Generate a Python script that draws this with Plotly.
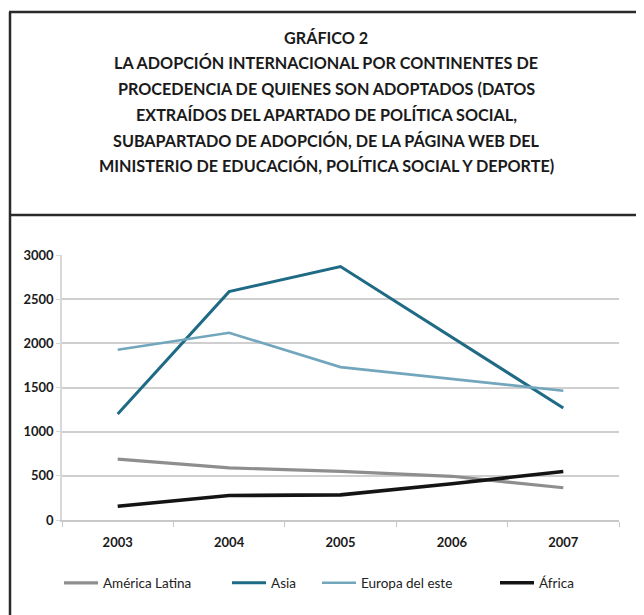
import plotly.graph_objects as go

years = ["2003", "2004", "2005", "2006", "2007"]
america_latina = [690, 590, 550, 495, 365]
asia = [1200, 2585, 2870, 2070, 1268]
europa_este = [1927, 2120, 1731, 1600, 1463]
africa = [155, 277, 285, 410, 550]

series_names = ["América Latina", "Asia", "Europa del este", "África"]
title_lines = [
    "GRÁFICO 2",
    "LA ADOPCIÓN INTERNACIONAL POR CONTINENTES DE",
    "PROCEDENCIA DE QUIENES SON ADOPTADOS (DATOS",
    "EXTRAÍDOS DEL APARTADO DE POLÍTICA SOCIAL,",
    "SUBAPARTADO DE ADOPCIÓN, DE LA PÁGINA WEB DEL",
    "MINISTERIO DE EDUCACIÓN, POLÍTICA SOCIAL Y DEPORTE)",
]

# page body has an 8px margin: work in reference pixel coords, shifted by OFF
OFF = 8
W, H = 644, 615
PL, PR, PT, PB = 62, 619, 255, 520  # plot box in reference pixels
L, T = PL - OFF, PT - OFF
R, B = W - (PR - OFF), H - (PB - OFF)
PW, PH = W - L - R, H - T - B


def px(x):
    return (x - OFF - L) / PW


def py(y):
    return (H - B - (y - OFF)) / PH


colors = ["#8e8e8e", "#1f6a84", "#72a6bd", "#141414"]
widths = [3.2, 3.0, 2.6, 3.6]
legends = ["legend", "legend2", "legend3", "legend4"]
legend_x = [59, 227, 317, 495]

fig = go.Figure()
for name, vals, c, w, lg in zip(series_names, [america_latina, asia, europa_este, africa],
                                colors, widths, legends):
    fig.add_trace(go.Scatter(x=years, y=vals, name=name, mode="lines", showlegend=True,
                             line=dict(color=c, width=w), legend=lg))

legend_common = dict(orientation="h", yanchor="middle", xanchor="left",
                     font=dict(family="Lato", size=13.5, color="#222"),
                     bgcolor="rgba(0,0,0,0)", itemwidth=34)
layout_legends = {}
for lg, lx in zip(legends, legend_x):
    d = dict(legend_common)
    d.update(x=px(lx), y=py(583), visible=True)
    layout_legends[lg] = d

annotations = []
title_y = [37, 63, 89, 115, 140, 165]
for t, ty in zip(title_lines, title_y):
    annotations.append(dict(text=t, x=px(326), y=py(ty), xref="paper", yref="paper",
                            showarrow=False, xanchor="center", yanchor="middle",
                            font=dict(family="Lato", size=16.2, color="#1a1a1a", weight="bold")))

shapes = [
    dict(type="line", xref="paper", yref="paper", x0=px(10), x1=px(10), y0=py(12), y1=py(625),
         line=dict(color="#2a2a2a", width=2.5)),
    dict(type="line", xref="paper", yref="paper", x0=px(9), x1=px(641), y0=py(12), y1=py(12),
         line=dict(color="#2a2a2a", width=2.5)),
    dict(type="line", xref="paper", yref="paper", x0=px(641), x1=px(641), y0=py(12), y1=py(215),
         line=dict(color="#2a2a2a", width=2.5)),
    dict(type="line", xref="paper", yref="paper", x0=px(9), x1=px(650), y0=py(215), y1=py(215),
         line=dict(color="#2a2a2a", width=2.5)),
]

fig.update_layout(
    width=W, height=H,
    margin=dict(l=L, r=R, t=T, b=B),
    paper_bgcolor="white", plot_bgcolor="white",
    showlegend=True,
    annotations=annotations, shapes=shapes,
    **layout_legends,
)
fig.update_xaxes(type="category", range=[-0.5, 4.5], tickson="boundaries",
                 ticks="outside", ticklen=5, tickcolor="#c8c8c8",
                 showline=True, linecolor="#c8c8c8", linewidth=1.5, ticklabelstandoff=10,
                 showgrid=False, tickfont=dict(family="Lato", size=13, color="#1a1a1a", weight="bold"))
fig.update_yaxes(range=[0, 3000], dtick=500, showgrid=True, gridcolor="#cfcfcf", gridwidth=1.5,
                 showline=True, linecolor="#d8d8d8", linewidth=1.5, zeroline=False,
                 ticks="outside", ticklen=4, tickcolor="#d8d8d8",
                 tickfont=dict(family="Lato", size=13, color="#1a1a1a", weight="bold"))

fig.write_html("out.html")
